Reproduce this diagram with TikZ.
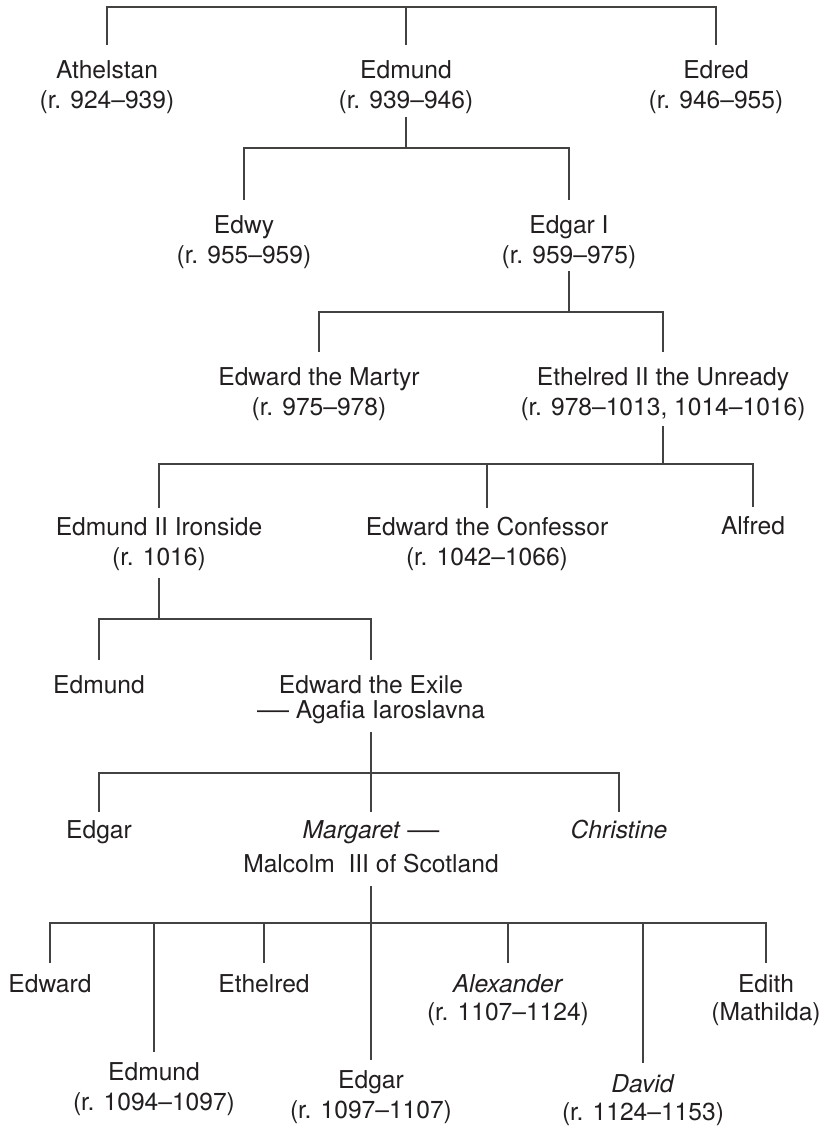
\documentclass[tikz,border=0pt]{standalone}
\usepackage{fontspec}
\setmainfont{TeX Gyre Heros}
\definecolor{ink}{HTML}{231F20}
% a marriage dash, slightly longer than an em dash
\newcommand{\wed}{\scalebox{1.3}[1]{—}}
\begin{document}
\begin{tikzpicture}[x=1pt,y=-1pt,
  person/.style={align=center, inner sep=0pt, anchor=base, text=ink,
    font=\fontsize{24.6}{30}\selectfont},
  link/.style={draw=ink!85, line width=1.2pt, line cap=rect},
  ]
\useasboundingbox (0,0) rectangle (823,1128);

% Each person is placed by the baseline of the last line of the label.

% ---- generation 1
\node[person] (athelstan) at (107,108)  {Athelstan\\(r. 924–939)};
\node[person] (edmundA)   at (406,108)  {Edmund\\(r. 939–946)};
\node[person] (edred)     at (716,108)  {Edred\\(r. 946–955)};

% ---- generation 2
\node[person] (edwy)      at (244,263) {Edwy\\(r. 955–959)};
\node[person] (edgarI)    at (569,263) {Edgar I\\(r. 959–975)};

% ---- generation 3
\node[person] (martyr)    at (319,415) {Edward the Martyr\\(r. 975–978)};
\node[person] (ethelredII) at (663,415) {Ethelred II the Unready\\(r. 978–1013, 1014–1016)};

% ---- generation 4
\node[person] (edmundII)  at (159,565) {Edmund II Ironside\\(r. 1016)};
\node[person] (confessor) at (487,565) {Edward the Confessor\\(r. 1042–1066)};
\node[person] (alfred)    at (753,534) {Alfred};

% ---- generation 5
\node[person] (edmundB)   at (99,693)  {Edmund};
\node[person] (exile)     at (371,718) {Edward the Exile\\[-5pt]\wed{} Agafia Iaroslavna};

% ---- generation 6
\node[person] (edgarB)    at (99,838)  {Edgar};
\node[person] (margaret)  at (371,872) {\textit{Margaret} \wed\\[4pt]Malcolm\ \ III of Scotland};
\node[person] (christine) at (619,838) {\textit{Christine}};

% ---- generation 7
\node[person] (edward)    at (50,992)   {Edward};
\node[person] (edmundC)   at (154,1110) {Edmund\\(r. 1094–1097)};
\node[person] (ethelredB) at (264,992)  {Ethelred};
\node[person] (edgarC)    at (371,1118) {Edgar\\(r. 1097–1107)};
\node[person] (alexander) at (508,1020) {\textit{Alexander}\\[-2pt](r. 1107–1124)};
\node[person] (david)     at (643,1120) {\textit{David}\\[-2pt](r. 1124–1153)};
\node[person] (edith)     at (766,1020) {Edith\\[-2pt](Mathilda)};

% ---- junctions of the sibling bars
\coordinate (root) at (406,7);
\coordinate (famA) at (406,148);
\coordinate (famB) at (569,312);
\coordinate (famC) at (663,464);
\coordinate (famD) at (159,619);
\coordinate (famE) at (371,773);
\coordinate (famF) at (371,923);

% ---- generation 1 from the top bar
\draw[link] (root) -| ([yshift=15pt]athelstan.north);
\draw[link] (root) -- ([yshift=15pt]edmundA.north);
\draw[link] (root) -| ([yshift=15pt]edred.north);

% ---- children of Edmund
\draw[link] ([yshift=-10pt]edmundA.base) -- (famA);
\draw[link] (famA) -| ([yshift=15pt]edwy.north);
\draw[link] (famA) -| ([yshift=15pt]edgarI.north);

% ---- children of Edgar I
\draw[link] ([yshift=-9pt]edgarI.base) -- (famB);
\draw[link] (famB) -| ([yshift=15pt]martyr.north);
\draw[link] (famB) -| ([yshift=15pt]ethelredII.north);

% ---- children of Ethelred II
\draw[link] ([yshift=-12pt]ethelredII.base) -- (famC);
\draw[link] (famC) -| ([yshift=9pt]edmundII.north);
\draw[link] (famC) -| ([yshift=9pt]confessor.north);
\draw[link] (famC) -| ([yshift=9pt]alfred.north);

% ---- children of Edmund II
\draw[link] ([yshift=-14pt]edmundII.base) -- (famD);
\draw[link] (famD) -| ([yshift=15pt]edmundB.north);
\draw[link] (famD) -| ([yshift=15pt]exile.north);

% ---- children of Edward the Exile
\draw[link] ([yshift=-15pt]exile.base) -- (famE);
\draw[link] (famE) -| ([yshift=8pt]edgarB.north);
\draw[link] (famE) -- ([yshift=8pt]margaret.north);
\draw[link] (famE) -| ([yshift=8pt]christine.north);

% ---- children of Margaret and Malcolm III
\draw[link] ([yshift=-15pt]margaret.base) -- (famF);
\draw[link] (famF) -| ([yshift=11pt]edward.north);
\draw[link] (famF) -| ([yshift=10pt]edmundC.north);
\draw[link] (famF) -| ([yshift=11pt]ethelredB.north);
\draw[link] (famF) -- ([yshift=10pt]edgarC.north);
\draw[link] (famF) -| ([yshift=11pt]alexander.north);
\draw[link] (famF) -| ([yshift=11pt]david.north);
\draw[link] (famF) -| ([yshift=11pt]edith.north);
\end{tikzpicture}
\end{document}
